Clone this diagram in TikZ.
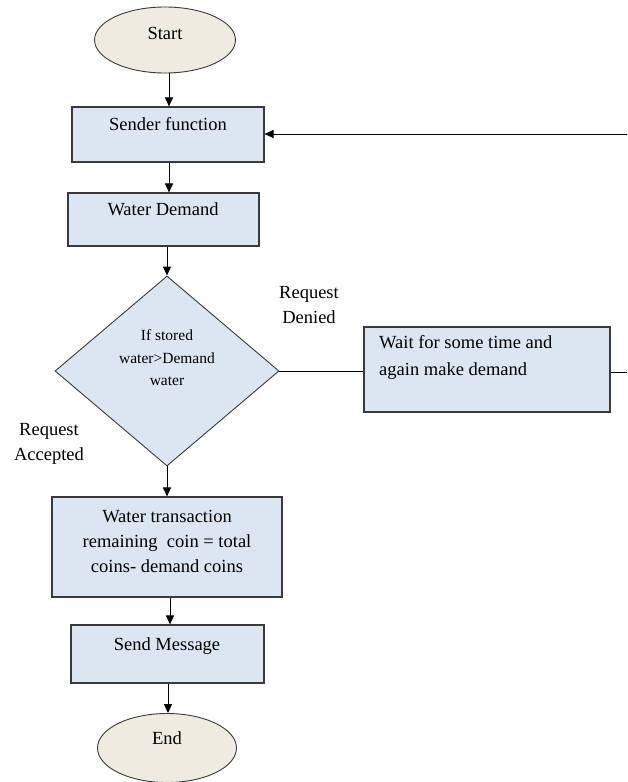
\documentclass[tikz,border=0pt]{standalone}
\usepackage{fontspec}
\setmainfont{Liberation Serif}
\usetikzlibrary{shapes.geometric,arrows.meta}

\definecolor{boxfill}{HTML}{DCE6F2}
\definecolor{termfill}{HTML}{EEECE1}
\definecolor{edge}{HTML}{3A3A3A}

\tikzset{
  stepbox/.style={draw=edge, line width=1.1pt, fill=boxfill, rectangle, inner sep=0pt},
  terminal/.style={draw=edge, line width=0.9pt, fill=termfill, ellipse, inner sep=0pt},
  decision/.style={draw=edge, line width=0.9pt, fill=boxfill, diamond, inner sep=0pt},
  txt/.style={inner sep=0pt, font=\fontsize{18.5}{25}\selectfont, align=center},
  smalltxt/.style={inner sep=0pt, font=\fontsize{15.5}{22.5}\selectfont, align=center},
  flow/.style={draw=black, line width=1pt, -{Triangle[length=9pt,width=8pt]}},
  plain/.style={draw=black, line width=1pt},
}

\begin{document}
\begin{tikzpicture}[x=1pt,y=-1pt]
\useasboundingbox (0,0) rectangle (627,782);

% shapes
\node[terminal, minimum width=141pt, minimum height=66pt] (start) at (165,40) {};
\node[stepbox, minimum width=192pt, minimum height=55pt] (sender) at (168,134.5) {};
\node[stepbox, minimum width=191pt, minimum height=53pt] (demand) at (163.5,219.5) {};
\node[decision, minimum width=224pt, minimum height=190pt] (check) at (167,371) {};
\node[stepbox, minimum width=246pt, minimum height=85pt] (wait) at (487,369.5) {};
\node[stepbox, minimum width=230pt, minimum height=100pt] (trans) at (167,547) {};
\node[stepbox, minimum width=193pt, minimum height=58pt] (send) at (167.5,654) {};
\node[terminal, minimum width=139pt, minimum height=69pt] (end) at (167,748) {};

% texts
\node[txt] (tstart) at (165,33) {Start};
\node[txt] (tsender) at (168,124) {Sender function};
\node[txt] (tdemand) at (163,209) {Water Demand};
\node[smalltxt] (tcheck) at (167,358) {If stored\\water>Demand\\water};
\node[txt, align=left, anchor=west, font=\fontsize{18.5}{27}\selectfont] (twait) at (379,357) {Wait for some time and\\again make demand};
\node[txt] (tdenied) at (309,305) {Request\\Denied};
\node[txt] (taccepted) at (49,444) {Request\\Accepted};
\node[txt] (ttrans) at (167,541) {Water transaction\\remaining\ \ coin = total\\coins- demand coins};
\node[txt] (tsend) at (167,646) {Send Message};
\node[txt] (tend) at (167,738) {End};

% connectors
\coordinate (loopin) at (627,134);
\coordinate (loopout) at (627,372);
\draw[flow] (start.south -| 169,0) -- (sender.north -| 169,0);
\draw[flow] (sender.south -| 169,0) -- (demand.north -| 169,0);
\draw[flow] (demand.south -| check.north) -- (check.north);
\draw[flow] (check.south) -- (trans.north -| check.south);
\draw[flow] (trans.south -| 170,0) -- (send.north -| 170,0);
\draw[flow] (send.south -| 168,0) -- (end.north -| 168,0);
\draw[plain] (check.east) -- (wait.west |- check.east);
\draw[plain] (wait.east |- loopout) -- (loopout);
\draw[flow] (loopin) -- (sender.east |- loopin);
\end{tikzpicture}
\end{document}
